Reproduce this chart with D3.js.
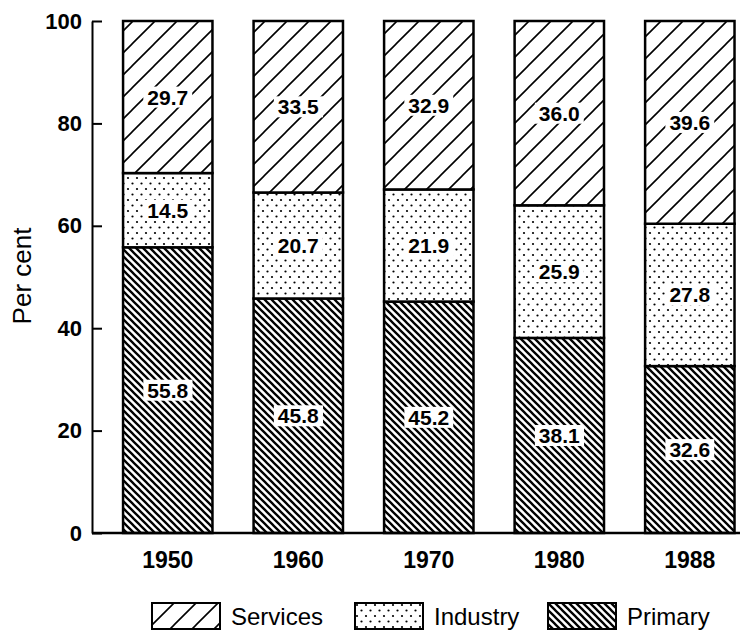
<!DOCTYPE html>
<html>
<head>
<meta charset="utf-8">
<script src="https://d3js.org/d3.v7.min.js"></script>
<style>
    body { margin: 0; background: #fff; }
    text { font-family: "Liberation Sans", Arial, sans-serif; fill: #000; }
</style>
</head>
<body>
<script>
    // values (per cent of employment)
    let years = ["1950", "1960", "1970", "1980", "1988"];
    let primary = [55.8, 45.8, 45.2, 38.1, 32.6];
    let industry = [14.5, 20.7, 21.9, 25.9, 27.8];
    let services = [29.7, 33.5, 32.9, 36.0, 39.6];
    let sectors = ["Primary", "Industry", "Services"];
    let legendOrder = ["Services", "Industry", "Primary"];
    let yTicks = [0, 20, 40, 60, 80, 100];

    let width = 740, height = 638;
    let axisX = 92;

    let svg = d3.select("body").append("svg")
        .attr("width", width)
        .attr("height", height);

    // hatch patterns
    let defs = svg.append("defs");

    let pServ = defs.append("pattern").attr("id", "Services")
        .attr("patternUnits", "userSpaceOnUse").attr("width", 22).attr("height", 22);
    pServ.append("rect").attr("width", 22).attr("height", 22).attr("fill", "#fff");
    pServ.append("path").attr("d", "M-3,3 L3,-3 M0,22 L22,0 M19,25 L25,19")
        .attr("stroke", "#000").attr("stroke-width", 1.6);

    let pPrim = defs.append("pattern").attr("id", "Primary")
        .attr("patternUnits", "userSpaceOnUse").attr("width", 7).attr("height", 7);
    pPrim.append("rect").attr("width", 7).attr("height", 7).attr("fill", "#fff");
    pPrim.append("path").attr("d", "M0,0 L7,7 M-2,5 L2,9 M5,-2 L9,2")
        .attr("stroke", "#000").attr("stroke-width", 2.3);

    let pInd = defs.append("pattern").attr("id", "Industry")
        .attr("patternUnits", "userSpaceOnUse").attr("width", 9).attr("height", 11);
    pInd.append("rect").attr("width", 9).attr("height", 11).attr("fill", "#fff");
    pInd.append("circle").attr("cx", 2).attr("cy", 2).attr("r", 1.1).attr("fill", "#000");
    pInd.append("circle").attr("cx", 6.5).attr("cy", 7.5).attr("r", 1.1).attr("fill", "#000");

    let x = d3.scaleBand()
        .domain(years)
        .range([axisX, width])
        .paddingInner(0.315)
        .paddingOuter(0.14)
        .align(0.85);

    let y = d3.scaleLinear()
        .domain([0, 100])
        .range([533, 21]);

    let rows = years.map((yr, i) => ({
        year: yr, Primary: primary[i], Industry: industry[i], Services: services[i]
    }));

    let stacked = d3.stack().keys(sectors)(rows);

    // bars
    svg.append("g")
        .selectAll("g")
        .data(stacked)
        .join("g")
            .attr("fill", d => "url(#" + d.key + ")")
        .selectAll("rect")
        .data(d => d)
        .join("rect")
            .attr("x", d => x(d.data.year))
            .attr("y", d => y(d[1]))
            .attr("width", x.bandwidth())
            .attr("height", d => y(d[0]) - y(d[1]))
            .attr("stroke", "#000")
            .attr("stroke-width", 2.5);

    // value labels with white knock-out
    let labels = svg.append("g");
    stacked.forEach(s => {
        s.forEach(d => {
            let g = labels.append("g");
            let t = g.append("text")
                .attr("x", x(d.data.year) + x.bandwidth() / 2)
                .attr("y", y((d[0] + d[1]) / 2))
                .attr("text-anchor", "middle")
                .attr("dy", "0.36em")
                .attr("font-size", 21)
                .attr("font-weight", "bold")
                .text(d.data[s.key].toFixed(1));
            let b = t.node().getBBox();
            g.insert("rect", "text")
                .attr("x", b.x - 4)
                .attr("y", b.y + 1)
                .attr("width", b.width + 8)
                .attr("height", b.height - 2)
                .attr("fill", "#fff");
        });
    });

    // y axis
    let gy = svg.append("g")
        .attr("transform", "translate(" + axisX + ",0)")
        .call(d3.axisLeft(y).tickValues(yTicks).tickSizeInner(-10).tickSizeOuter(0).tickPadding(10));
    gy.select(".domain").attr("stroke-width", 2);
    gy.selectAll(".tick line").attr("stroke-width", 2);
    gy.selectAll(".tick text").attr("font-size", 22).attr("font-weight", "bold");

    // baseline and years
    svg.append("line")
        .attr("x1", axisX).attr("x2", width)
        .attr("y1", y(0)).attr("y2", y(0))
        .attr("stroke", "#000").attr("stroke-width", 2.5);

    let gx = svg.append("g")
        .attr("transform", "translate(0," + y(0) + ")")
        .call(d3.axisBottom(x).tickSize(0).tickPadding(19));
    gx.select(".domain").remove();
    gx.selectAll(".tick text").attr("font-size", 23).attr("font-weight", "bold");

    svg.append("text")
        .attr("transform", "translate(22,276) rotate(-90)")
        .attr("text-anchor", "middle")
        .attr("dy", "0.35em")
        .attr("font-size", 26)
        .text("Per cent");

    // legend
    let legendX = [152, 355, 548];
    let legend = svg.append("g")
        .selectAll("g")
        .data(legendOrder)
        .join("g")
            .attr("transform", (d, i) => "translate(" + legendX[i] + ",603)");
    legend.append("rect")
        .attr("width", 68).attr("height", 26)
        .attr("fill", d => "url(#" + d + ")")
        .attr("stroke", "#000").attr("stroke-width", 2);
    legend.append("text")
        .attr("x", 79).attr("y", 22)
        .attr("font-size", 24)
        .text(d => d);
</script>
</body>
</html>
